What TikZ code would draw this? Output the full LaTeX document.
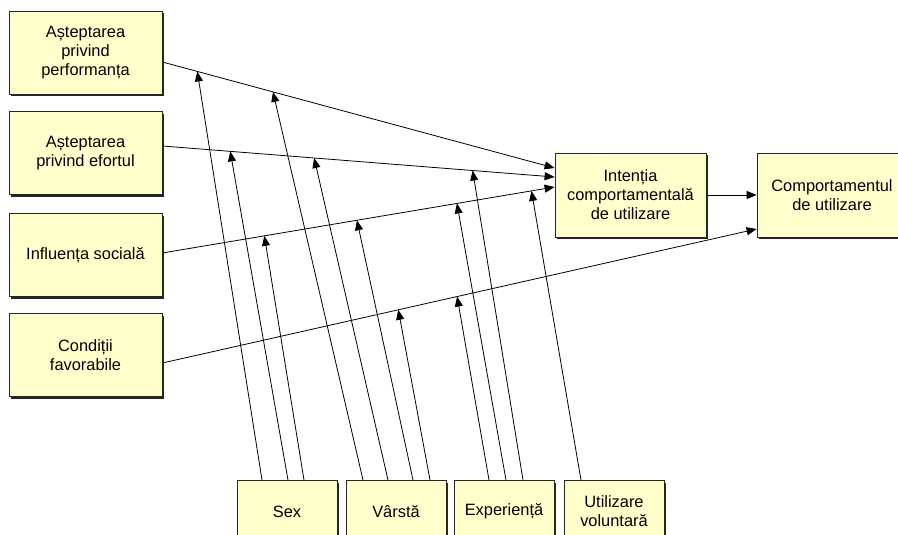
\documentclass[tikz,border=0pt]{standalone}
\usepackage{fontspec}
\setmainfont{Liberation Sans}
\usetikzlibrary{arrows.meta,shadows,calc}
\definecolor{boxfill}{HTML}{FFFFCC}
\begin{document}
\begin{tikzpicture}[x=1pt,y=-1pt,
  box/.style={draw=black!85, fill=boxfill, line width=0.8pt, minimum width=153pt,
    minimum height=83pt, inner sep=2pt, align=center,
    font=\fontsize{16.4}{19}\selectfont,
    general shadow={fill=black!85, shadow xshift=2.2pt, shadow yshift=-2.2pt}},
  lowbox/.style={box, minimum width=100pt, minimum height=62pt, anchor=north},
  conn/.style={line width=0.8pt, -{Triangle[length=10pt,width=8pt]}}]
\clip (0,0) rectangle (898,535);
\fill[white] (0,0) rectangle (898,535);
% left boxes
\node[box] (perf) at (85.5,52.5) {Așteptarea\\privind\\performanța};
\node[box] (eff) at (85.5,153) {Așteptarea\\privind efortul};
\node[box] (soc) at (85.5,255) {Influența socială};
\node[box] (fac) at (85.5,355) {Condiții\\favorabile};
% right boxes
\node[box, minimum width=151pt, minimum height=84pt] (int) at (630.5,195) {Intenția\\comportamentală\\de utilizare};
\node[box, minimum width=150pt, minimum height=84pt] (beh) at (832,195) {Comportamentul\\de utilizare};
% bottom boxes
\node[lowbox] (sex) at (287,480) {Sex};
\node[lowbox] (age) at (396,480) {Vârstă};
\node[lowbox] (exp) at (504,480) {Experiență};
\node[lowbox] (vol) at (614,480) {Utilizare\\voluntară};
% main connectors
\coordinate (s1) at ($(perf.east)+(0,9.5)$);
\coordinate (e1) at ($(int.west)+(0,-27)$);
\coordinate (s2) at ($(eff.east)+(0,-7)$);
\coordinate (e2) at ($(int.west)+(0,-18)$);
\coordinate (s3) at ($(soc.east)+(0,-2)$);
\coordinate (e3) at ($(int.west)+(0,-8)$);
\coordinate (s4) at ($(fac.east)+(0,8)$);
\coordinate (e4) at ($(beh.west)+(0,34)$);
\draw[conn] (s1) -- coordinate[pos=.089] (a11) coordinate[pos=.282] (a12) (e1);
\draw[conn] (s2) -- coordinate[pos=.173] (a21) coordinate[pos=.387] (a22) coordinate[pos=.791] (a23) (e2);
\draw[conn] (s3) -- coordinate[pos=.26] (a31) coordinate[pos=.496] (a32) coordinate[pos=.751] (a33) coordinate[pos=.941] (a34) (e3);
\draw[conn] (s4) -- coordinate[pos=.397] (a41) coordinate[pos=.496] (a42) (e4);
\draw[conn] (int.east) -- (beh.west);
% moderators
\draw[conn] ($(sex.north)+(-25,0)$) -- (a11);
\draw[conn] ($(sex.north)+(1,0)$) -- (a21);
\draw[conn] ($(sex.north)+(17,0)$) -- (a31);
\draw[conn] ($(age.north)+(-33,0)$) -- (a12);
\draw[conn] ($(age.north)+(-8,0)$) -- (a22);
\draw[conn] ($(age.north)+(17,0)$) -- (a32);
\draw[conn] ($(age.north)+(34,0)$) -- (a41);
\draw[conn] ($(exp.north)+(-15,0)$) -- (a42);
\draw[conn] ($(exp.north)+(2,0)$) -- (a33);
\draw[conn] ($(exp.north)+(19,0)$) -- (a23);
\draw[conn] ($(vol.north)+(-33,0)$) -- (a34);
\end{tikzpicture}
\end{document}
